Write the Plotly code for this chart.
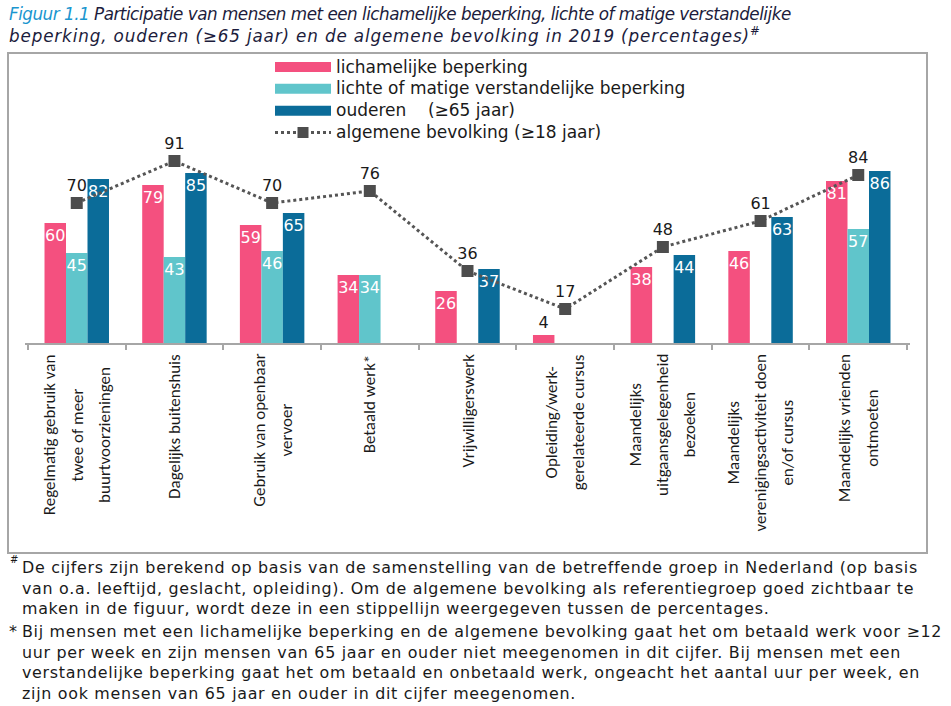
import plotly.graph_objects as go

categories = [
    "Regelmatig gebruik van<br>twee of meer<br>buurtvoorzieningen",
    "Dagelijks buitenshuis",
    "Gebruik van openbaar<br>vervoer",
    "Betaald werk*",
    "Vrijwilligerswerk",
    "Opleiding/werk-<br>gerelateerde cursus",
    "Maandelijks<br>uitgaansgelegenheid<br>bezoeken",
    "Maandelijks<br>verenigingsactiviteit doen<br>en/of cursus",
    "Maandelijks vrienden<br>ontmoeten",
]
lichamelijk = [60, 79, 59, 34, 26, 4, 38, 46, 81]
verstandelijk = [45, 43, 46, 34, None, None, None, None, 57]
ouderen = [82, 85, 65, None, 37, None, 44, 63, 86]
algemeen = [70, 91, 70, 76, 36, 17, 48, 61, 84]

series_names = [
    "lichamelijke beperking",
    "lichte of matige verstandelijke beperking",
    "ouderen\u00a0\u00a0\u00a0\u00a0(≥65 jaar)",
    "algemene bevolking (≥18 jaar)",
]

PINK = "#f4507f"
TEAL = "#60c5cb"
DARK = "#0b6c99"
GRAY = "#4d4d4d"

W, H = 951, 706
ML, MR, MT, MB = 25, 41, 143, 363
PW = W - ML - MR
PH = H - MT - MB


def xp(px):
    return (px - ML) / PW


def yp(py):
    return (H - MB - py) / PH


NUMFONT = "DejaVu Sans"
LABFONT = "Liberation Sans Narrow, Carlito, Arial Narrow, sans-serif"
FOOTFONT = "DejaVu Sans"

fig = go.Figure()

for vals, col in [(lichamelijk, PINK), (verstandelijk, TEAL), (ouderen, DARK)]:
    txt = [("" if v is None else str(v)) for v in vals]
    pos = ["outside" if (v is not None and v < 10) else "inside" for v in vals]
    fig.add_trace(go.Bar(
        x=categories, y=vals, marker=dict(color=col, line=dict(width=0)),
        text=txt, textposition=pos, insidetextanchor="end",
        textangle=0, constraintext="none",
        insidetextfont=dict(family=NUMFONT, size=16, color="white"),
        outsidetextfont=dict(family=NUMFONT, size=16, color="#1a1a1a"),
        showlegend=False, hoverinfo="skip", cliponaxis=False,
    ))

fig.add_trace(go.Scatter(
    x=categories, y=algemeen, mode="lines+markers+text",
    line=dict(color="#555555", width=3, dash="dot"),
    marker=dict(symbol="square", size=12, color=GRAY),
    text=[str(v) for v in algemeen], textposition="top center",
    textfont=dict(family=NUMFONT, size=16, color="#1a1a1a"),
    showlegend=False, cliponaxis=False, hoverinfo="skip",
))


def leg(name):
    return "<span style='font-size:17px'>%s</span>" % name


# legend entries
for name, col in zip(series_names[:3], [PINK, TEAL, DARK]):
    fig.add_trace(go.Scatter(x=[None], y=[None], mode="lines", name=leg(name),
                             line=dict(color=col, width=10)))
fig.add_trace(go.Scatter(x=[None], y=[None], mode="lines+markers", name=leg(series_names[3]),
                         line=dict(color="#555555", width=3, dash="dot"),
                         marker=dict(symbol="square", size=11, color=GRAY)))

annotations = []
for c in categories:
    lines = c.split("<br>")
    t = "<br>".join("<span style='font-size:17px'>%s</span>" % ln for ln in lines)
    annotations.append(dict(
        x=c, y=yp(352), xref="x", yref="paper", text=t, textangle=-90,
        showarrow=False, xanchor="center", yanchor="top", align="center",
        font=dict(family=LABFONT, size=21, color="#1a1a1a"),
    ))

foot1 = ("De cijfers zijn berekend op basis van de samenstelling van de betreffende groep in Nederland (op basis<br>"
         "van o.a. leeftijd, geslacht, opleiding). Om de algemene bevolking als referentiegroep goed zichtbaar te<br>"
         "maken in de figuur, wordt deze in een stippellijn weergegeven tussen de percentages.")
foot2 = ("Bij mensen met een lichamelijke beperking en de algemene bevolking gaat het om betaald werk voor ≥12<br>"
         "uur per week en zijn mensen van 65 jaar en ouder niet meegenomen in dit cijfer. Bij mensen met een<br>"
         "verstandelijke beperking gaat het om betaald en onbetaald werk, ongeacht het aantal uur per week, en<br>"
         "zijn ook mensen van 65 jaar en ouder in dit cijfer meegenomen.")


def track(t, ls):
    return "<br>".join("<span style='letter-spacing:%.2fpx'>%s</span>" % (ls, ln) for ln in t.split("<br>"))


for t, top in [(foot1, 556), (foot2, 620)]:
    annotations.append(dict(
        x=xp(20), y=yp(top), xref="paper", yref="paper", text=track(t, 0.7),
        showarrow=False, xanchor="left", yanchor="top", align="left",
        font=dict(family=FOOTFONT, size=15.9, color="#1a1a1a"),
    ))
annotations.append(dict(x=xp(8), y=yp(552), xref="paper", yref="paper", text="#",
                        showarrow=False, xanchor="left", yanchor="top",
                        font=dict(family=FOOTFONT, size=10, color="#1a1a1a")))
annotations.append(dict(x=xp(7), y=yp(620), xref="paper", yref="paper", text="*",
                        showarrow=False, xanchor="left", yanchor="top",
                        font=dict(family=FOOTFONT, size=16, color="#1a1a1a")))

title = ("<span style='color:#1a96cf;letter-spacing:-0.5px'>Figuur 1.1</span>"
         "<span style='letter-spacing:-0.5px'> Participatie van mensen met een lichamelijke beperking, "
         "lichte of matige verstandelijke</span><br>"
         "<span style='letter-spacing:0.85px'>beperking, ouderen (≥65 jaar) en de algemene bevolking in 2019 "
         "(percentages)</span><sup>#</sup>")
annotations.append(dict(x=xp(7), y=yp(2), xref="paper", yref="paper", text=title,
                        showarrow=False, xanchor="left", yanchor="top", align="left",
                        font=dict(family="DejaVu Sans", size=16.8, color="#1c1c3c", style="italic")))

shapes = [dict(type="rect", xref="paper", yref="paper",
               x0=xp(8), x1=xp(927), y0=yp(553), y1=yp(53),
               line=dict(color="#a6a6a6", width=2), fillcolor="rgba(0,0,0,0)", layer="below")]

fig.update_layout(
    width=W, height=H,
    margin=dict(l=ML, r=MR, t=MT, b=MB, pad=0),
    paper_bgcolor="white", plot_bgcolor="white",
    barmode="group", bargap=0.34, bargroupgap=0,
    xaxis=dict(type="category", showticklabels=False, ticks="outside", tickson="boundaries",
               ticklen=5, tickcolor="#a6a6a6", tickwidth=1.5, showline=True,
               linecolor="#a6a6a6", linewidth=1.5, showgrid=False, zeroline=False,
               fixedrange=True),
    yaxis=dict(range=[0, 100], visible=False, fixedrange=True),
    legend=dict(x=xp(270), y=yp(51), xanchor="left", yanchor="top", itemwidth=56,
                font=dict(family=NUMFONT, size=14.5, color="#1a1a1a"),
                bgcolor="rgba(0,0,0,0)", tracegroupgap=0, itemclick=False),
    annotations=annotations, shapes=shapes,
    showlegend=True,
)

fig.write_html("out.html", config={"displayModeBar": False},
               post_script="document.body.style.margin='0';")
